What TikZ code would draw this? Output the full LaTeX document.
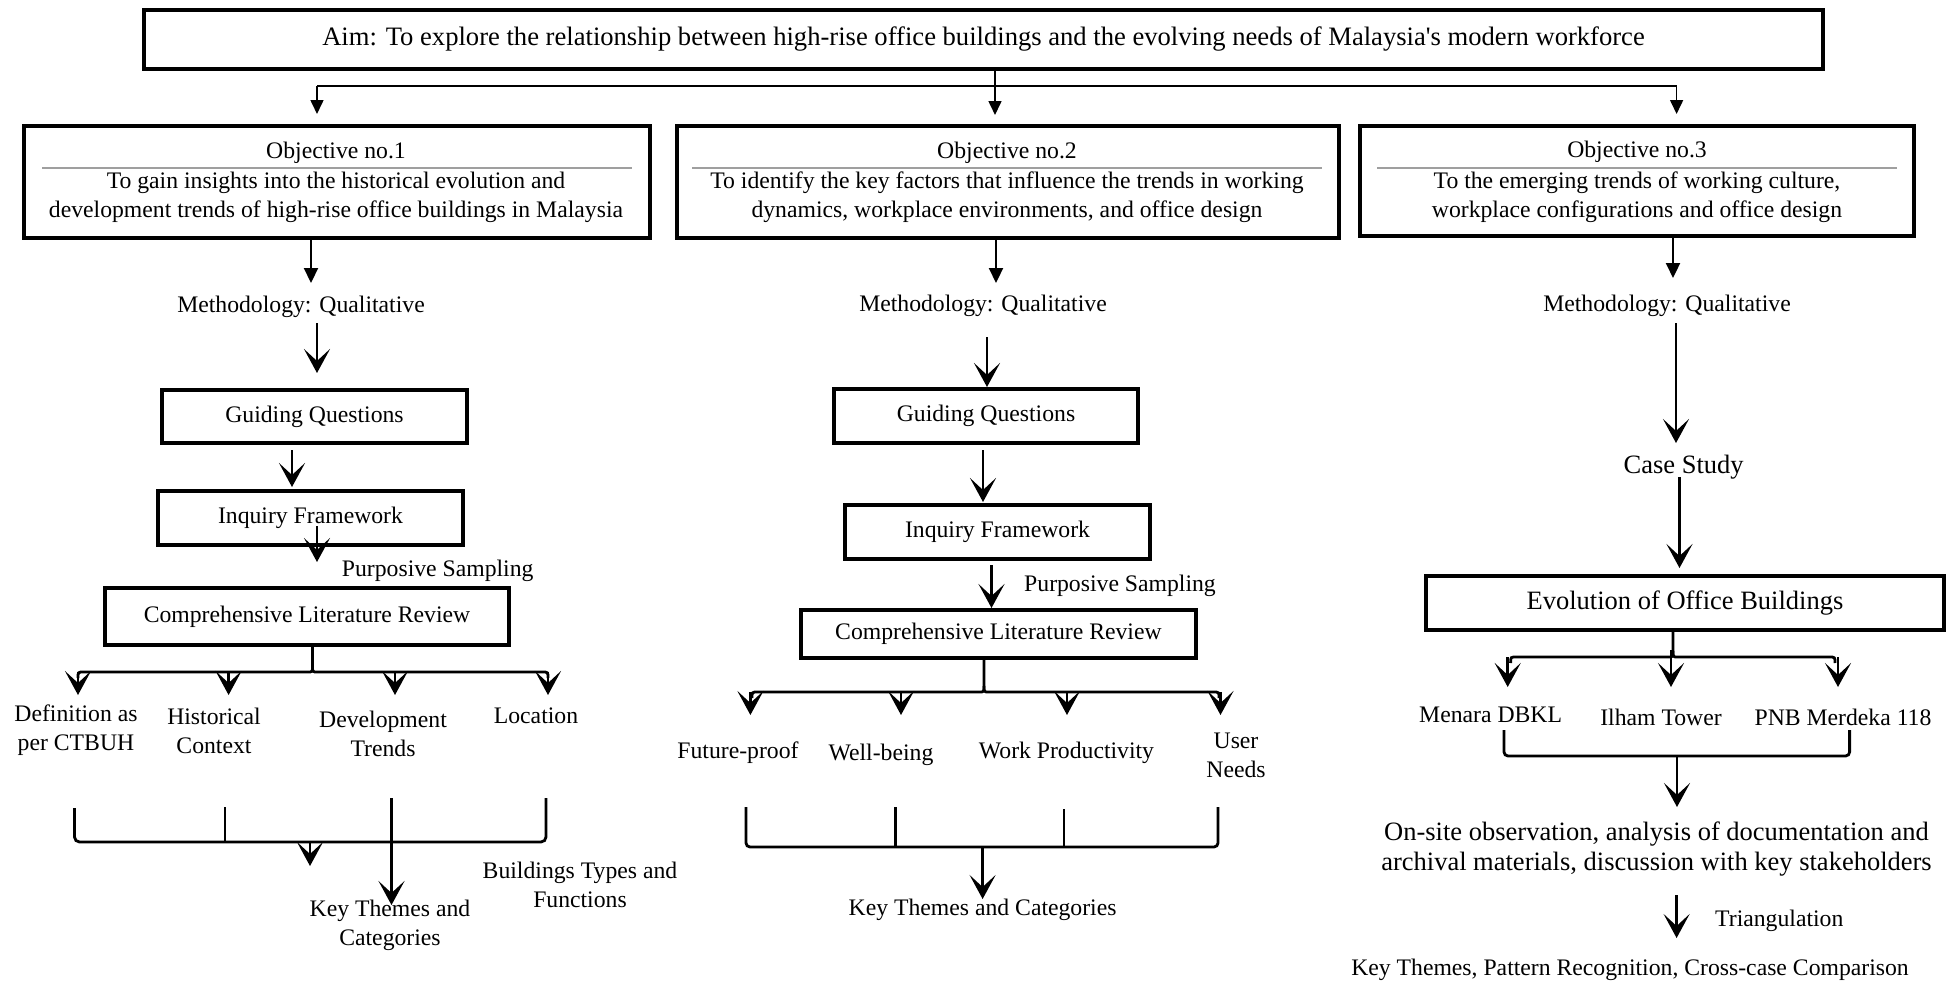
\documentclass[tikz,border=0pt]{standalone}
\usepackage{fontspec}
\setmainfont{Liberation Serif}
\usetikzlibrary{arrows.meta}
\newcommand\varrow[5]{\coordinate (#2s) at (#3,#4);\coordinate (#2e) at (#3,#5);\draw[#1] (#2s) -- (#2e);}
% stem x, stem top, line y, left x, right x
\newcommand\mybrace[5]{%
  \draw[ln] (#1,#2) -- (#1,#3-6) .. controls (#1,#3) .. (#1-5,#3) -- (#4+6,#3) .. controls (#4,#3) .. (#4,#3+6);
  \draw[ln] (#1,#3-6) .. controls (#1,#3) .. (#1+5,#3) -- (#5-6,#3) .. controls (#5,#3) .. (#5,#3+6);}
\begin{document}
\begin{tikzpicture}[x=1pt,y=-1pt,
  box/.style={draw, line width=4.5pt, inner sep=0pt},
  txt/.style={inner sep=0pt, align=center, font=\fontsize{23.7}{29}\selectfont},
  big/.style={inner sep=0pt, align=center, font=\fontsize{26.5}{30}\selectfont},
  lbl/.style={txt, yshift=-2.5pt},
  biglbl/.style={big, yshift=-2.5pt},
  tri/.style={line width=2.2pt, -{Triangle[length=15pt,width=14pt]}},
  thinarr/.style={line width=1.6pt, -{Triangle[length=14pt,width=13pt]}},
  arr/.style={line width=2.8pt, -{Stealth[length=24pt,width=26pt,inset=12pt]}},
  ln/.style={line width=2.8pt},
  sep/.style={line width=2pt, gray!75},
]
\useasboundingbox (0,0) rectangle (1954,980);
\fill[white] (0,0) rectangle (1954,980);

% ---------------- Aim
\node[box, minimum width=1679pt, minimum height=59pt, font=\fontsize{26.6}{30}\selectfont] (aim) at (983.5,39.5)
  {Aim: To explore the relationship between high-rise office buildings and the evolving needs of Malaysia\textquotesingle s modern workforce};

% ---------------- Objectives
\node[box, minimum width=626pt, minimum height=112pt] (obj1) at (337,182) {};
\node[txt] (obj1t) at (336,153) {Objective no.1};
\draw[sep] (42,168) -- (632,168);
\node[txt] (obj1d) at (336,197) {To gain insights into the historical evolution and\\development trends of high-rise office buildings in Malaysia};

\node[box, minimum width=662pt, minimum height=112pt] (obj2) at (1007.75,182) {};
\node[txt] (obj2t) at (1007,153) {Objective no.2};
\draw[sep] (692,168) -- (1322,168);
\node[txt] (obj2d) at (1007,197) {To identify the key factors that influence the trends in working\\dynamics, workplace environments, and office design};

\node[box, minimum width=554pt, minimum height=110pt] (obj3) at (1636.75,181) {};
\node[txt] (obj3t) at (1637,152) {Objective no.3};
\draw[sep] (1377,168) -- (1897,168);
\node[txt] (obj3d) at (1637,197) {To the emerging trends of working culture,\\workplace configurations and office design};

% aim connectors
\coordinate (a1) at (317,86);
\coordinate (a3) at (1676.6,86);
\coordinate (a1e) at (317,114);
\coordinate (a3e) at (1676.6,114);
\draw[line width=1.6pt] (a1) -- (a3);
\draw[thinarr] (a1) -- (a1e);
\draw[thinarr] (a3) -- (a3e);
\varrow{thinarr}{a2}{995}{71}{115}

% objective -> methodology
\node[lbl] (m1) at (301,304) {Methodology: Qualitative};
\node[lbl] (m2) at (983,303) {Methodology: Qualitative};
\node[lbl] (m3) at (1667,303) {Methodology: Qualitative};
\varrow{tri}{o1m}{311}{240}{283}
\varrow{tri}{o2m}{996}{240}{283}
\varrow{tri}{o3m}{1673}{238}{278}

% ---------------- Column 1
\varrow{arr}{m1g}{317}{323}{373}
\node[box, txt, minimum width=305pt, minimum height=53pt] (gq1) at (314.5,416.5) {Guiding Questions};
\varrow{arr}{g1i}{292}{450}{487}
\node[box, txt, minimum width=305pt, minimum height=54pt] (if1) at (310.5,518) {Inquiry Framework};
\varrow{arr}{i1c}{317}{526}{562}
\node[lbl] (ps1) at (437.7,568) {Purposive Sampling};
\node[box, txt, minimum width=404pt, minimum height=57pt] (clr1) at (307,616.5) {Comprehensive Literature Review};
\mybrace{312.5}{647}{672}{78}{548}
\varrow{arr}{b1a}{78}{672}{695}
\varrow{arr}{b1b}{228.6}{672}{695}
\varrow{arr}{b1c}{395}{672}{695}
\varrow{arr}{b1d}{548}{672}{695}
\node[lbl] (def) at (76,728) {Definition as\\per CTBUH};
\node[lbl] (hist) at (214,728) {Historical\\Context};
\node[lbl] (dev) at (383,731) {Development\\Trends};
\node[lbl] (loc) at (536,713) {Location};
\coordinate (l1a) at (74.5,808);
\coordinate (l1d) at (546,798);
\draw[ln, rounded corners=5pt] (l1a) -- (74.5,842) -- (546,842) -- (l1d);
\varrow{ln}{l1b}{225}{807}{842}
\varrow{arr}{l1c}{391.5}{798}{905}
\varrow{arr}{l1k}{310}{842}{866}
\node[lbl] (kt1) at (390,922.5) {Key Themes and\\Categories};
\node[lbl] (bt1) at (580,882.5) {Buildings Types and\\Functions};

% ---------------- Column 2
\varrow{arr}{m2g}{987}{337}{387}
\node[box, txt, minimum width=304pt, minimum height=54pt] (gq2) at (986,416) {Guiding Questions};
\varrow{arr}{g2i}{983}{450}{502}
\node[box, txt, minimum width=305pt, minimum height=54pt] (if2) at (997.5,532) {Inquiry Framework};
\varrow{arr}{i2c}{991.5}{565}{608}
\node[lbl] (ps2) at (1120,583) {Purposive Sampling};
\node[box, txt, minimum width=395pt, minimum height=48pt] (clr2) at (998.4,634) {Comprehensive Literature Review};
\mybrace{984}{660}{692}{752}{1219}
\varrow{arr}{b2a}{750.4}{692}{715}
\varrow{arr}{b2b}{901}{692}{715}
\varrow{arr}{b2c}{1067}{692}{715}
\varrow{arr}{b2d}{1220.5}{692}{715}
\node[lbl] (fp) at (738,750) {Future-proof};
\node[lbl] (wb) at (881,752) {Well-being};
\node[lbl] (wp) at (1066.5,750) {Work Productivity};
\node[lbl] (un) at (1236,753) {User\\Needs};
\coordinate (l2a) at (746,807);
\coordinate (l2d) at (1218,807);
\draw[ln, rounded corners=4pt] (l2a) -- (746,847) -- (1218,847) -- (l2d);
\varrow{ln}{l2b}{895.5}{807}{847}
\varrow{ln}{l2c}{1064}{809}{847}
\varrow{arr}{l2k}{982.6}{847}{899}
\node[lbl] (kt2) at (982.6,907) {Key Themes and Categories};

% ---------------- Column 3
\varrow{arr}{m3c}{1676}{323}{443}
\node[biglbl] (cs) at (1683.6,465) {Case Study};
\varrow{arr}{c3e}{1679.5}{477}{568}
\node[box, big, minimum width=518pt, minimum height=54pt] (evo) at (1685,603) {Evolution of Office Buildings};
\mybrace{1673}{632}{657}{1510.6}{1835}
\varrow{arr}{b3a}{1507.7}{657}{687}
\varrow{arr}{b3b}{1671}{650}{687}
\varrow{arr}{b3c}{1838}{657}{687}
\node[lbl] (mdb) at (1490.6,712) {Menara DBKL};
\node[lbl] (ilh) at (1661,715) {Ilham Tower};
\node[lbl] (pnb) at (1843,715) {PNB Merdeka 118};
\coordinate (l3a) at (1504,730);
\coordinate (l3b) at (1849.6,730);
\draw[ln, rounded corners=4pt] (l3a) -- (1504,756) -- (1849.6,756) -- (l3b);
\varrow{arr}{l3k}{1677}{756}{807}
\node[biglbl] (ons) at (1656.5,847) {On-site observation, analysis of documentation and\\archival materials, discussion with key stakeholders};
\varrow{arr}{tri3}{1676.6}{895}{938}
\node[lbl, anchor=west] (trg) at (1715,918) {Triangulation};
\node[lbl] (ktp) at (1630,967) {Key Themes, Pattern Recognition, Cross-case Comparison};
\end{tikzpicture}
\end{document}
